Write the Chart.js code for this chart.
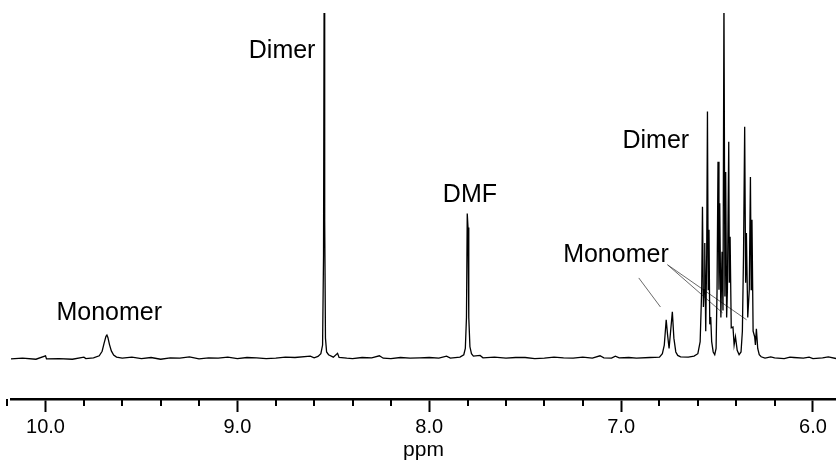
<!DOCTYPE html>
<html>
<head>
<meta charset="utf-8">
<script src="https://cdn.jsdelivr.net/npm/chart.js@4/dist/chart.umd.min.js"></script>
<style>
  html, body { margin: 0; padding: 0; background: #fff; }
  #wrap { width: 836px; height: 464px; position: relative; }
</style>
</head>
<body>
<div id="wrap"><canvas id="nmr"></canvas></div>
<script>
// Spectrum points (chemical shift in ppm, relative intensity)
const ppm = [
  10.18, 10.12, 10.05, 10.00, 9.995, 9.93, 9.86, 9.80, 9.79, 9.75,
  9.72, 9.705, 9.695, 9.685, 9.68, 9.675, 9.667, 9.657, 9.645, 9.63,
  9.60, 9.55, 9.50, 9.45, 9.40, 9.35, 9.30, 9.25, 9.20, 9.15,
  9.10, 9.05, 9.00, 8.95, 8.90, 8.85, 8.80, 8.75, 8.70, 8.62,
  8.60, 8.58, 8.565, 8.556, 8.551, 8.548, 8.545, 8.541, 8.535, 8.525,
  8.50, 8.478, 8.47, 8.43, 8.40, 8.35, 8.30, 8.26, 8.24, 8.20,
  8.15, 8.10, 8.05, 8.00, 7.95, 7.91, 7.89, 7.84, 7.82, 7.812,
  7.806, 7.802, 7.798, 7.794, 7.788, 7.78, 7.77, 7.735, 7.72, 7.66,
  7.60, 7.55, 7.50, 7.45, 7.40, 7.35, 7.30, 7.25, 7.20, 7.15,
  7.11, 7.09, 7.05, 7.03, 7.01, 6.96, 6.92, 6.85, 6.80, 6.785,
  6.775, 6.765, 6.758, 6.75, 6.742, 6.733, 6.725, 6.715, 6.705, 6.69,
  6.65, 6.62, 6.60, 6.588, 6.58, 6.576, 6.571, 6.567, 6.564, 6.559,
  6.554, 6.550, 6.546, 6.542, 6.538, 6.533, 6.528, 6.52, 6.512, 6.505,
  6.50, 6.495, 6.49, 6.486, 6.48, 6.474, 6.469, 6.464, 6.459, 6.455,
  6.450, 6.446, 6.439, 6.436, 6.432, 6.426, 6.417, 6.411, 6.404, 6.395,
  6.385, 6.375, 6.368, 6.362, 6.356, 6.351, 6.347, 6.340, 6.332, 6.326,
  6.322, 6.318, 6.312, 6.304, 6.300, 6.295, 6.288, 6.28, 6.27, 6.25,
  6.22, 6.20, 6.15, 6.12, 6.10, 6.05, 6.02, 6.00, 5.95, 5.92, 5.88
];
const intensity = [
  0, 0.2, -0.1, 0.9, 0, 0.1, -0.1, 0.5, 0.1, 0.3,
  0.9, 2.2, 4.5, 6.5, 6.9, 6.2, 4.2, 2.3, 1.1, 0.5,
  0.2, 0.5, 0.1, 0.4, -0.1, 0.3, 0.2, 0.6, 0, 0.3,
  0.2, 0.5, 0.1, 0.4, 0.3, 0.1, 0.2, 0.5, 0.4, 0.8,
  0.3, 0.7, 1.5, 4, 30, 105, 40, 6, 2, 1.2,
  0.5, 1.6, 0.4, 0.2, 0.1, 0.4, 0.3, 0.9, 0.2, 0.1,
  0.4, 0.2, 0.3, 0.4, 0.2, 0.8, 0.2, 0.5, 1.2, 3,
  12, 42, 38, 12, 3.5, 1.5, 0.8, 1.0, 0.3, 0.5,
  0.2, 0.4, 0.4, 0.1, 0.2, 0.5, 0.3, 0.2, 0.5, 0.2,
  0.9, 0.3, 0.2, 0.8, 0.3, 0.4, 0.2, 0.4, 0.5, 1.5,
  4, 11.3, 7, 3, 8, 13.6, 6, 2, 1, 0.6,
  0.5, 0.8, 1.5, 5, 20, 44, 15, 20, 33.5, 8,
  30, 71.5, 20, 37.3, 10, 12.1, 5, 2, 1.2, 3,
  20, 57, 20, 45, 12, 31, 14, 105, 18, 54,
  12, 20, 62.8, 22, 35.3, 9, 9.2, 4, 6.4, 2.5,
  1.2, 2, 8, 30, 67.1, 22, 36.4, 12, 20, 52.6,
  20, 40.2, 8, 6.4, 4, 8.7, 3, 1.2, 0.6, 0.2,
  0.6, 0.3, 0.1, 0.5, 0.4, 0.2, 0.5, 0.1, 0.3, 0.6, 0.1
];

// Axis
const majorTicks = [10.0, 9.0, 8.0, 7.0, 6.0];
const minorTicks = [10.2, 9.8, 9.6, 9.4, 9.2, 8.8, 8.6, 8.4, 8.2, 7.8, 7.6, 7.4, 7.2, 6.8, 6.6, 6.4, 6.2];

// Peak labels and their anchors (ppm, intensity at text baseline)
const labelTexts = ['Dimer', 'DMF', 'Dimer', 'Monomer', 'Monomer'];
const labelPpm = [8.767, 7.788, 6.819, 7.027, 9.668];
const labelInt = [87.0, 45.4, 61.0, 28.0, 11.3];

// Leader lines from the right "Monomer" label: [ppm start, ppm end], [int start, int end]
const leaderPpm = [[6.908, 6.795], [6.758, 6.471], [6.758, 6.346]];
const leaderInt = [[23.4, 15.0], [27.2, 13.3], [27.2, 11.3]];

const FONT = "'Liberation Sans', Arial, sans-serif";

const spectrum = {
  data: ppm.map((p, i) => ({ x: p, y: intensity[i] })),
  showLine: true,
  borderColor: '#000',
  borderWidth: 1.3,
  pointRadius: 0,
  tension: 0
};

const leaders = leaderPpm.map((pair, i) => ({
  data: pair.map((p, j) => ({ x: p, y: leaderInt[i][j] })),
  showLine: true,
  borderColor: '#444',
  borderWidth: 0.8,
  pointRadius: 0
}));

// Minor ticks on the ppm axis and the peak labels
const extrasPlugin = {
  id: 'extras',
  afterDraw(chart) {
    const ctx = chart.ctx;
    const xs = chart.scales.x;
    const ys = chart.scales.y;
    const base = chart.chartArea.bottom;
    ctx.save();
    ctx.strokeStyle = '#000';
    ctx.lineWidth = 2;
    minorTicks.forEach(v => {
      const px = Math.round(xs.getPixelForValue(v));
      ctx.beginPath();
      ctx.moveTo(px, base);
      ctx.lineTo(px, base + 7);
      ctx.stroke();
    });
    ctx.fillStyle = '#000';
    ctx.font = '25px ' + FONT;
    ctx.textAlign = 'center';
    ctx.textBaseline = 'alphabetic';
    labelTexts.forEach((t, i) => {
      ctx.fillText(t, xs.getPixelForValue(labelPpm[i]), ys.getPixelForValue(labelInt[i]));
    });
    ctx.restore();
  }
};

new Chart(document.getElementById('nmr'), {
  type: 'scatter',
  data: { datasets: [spectrum, ...leaders] },
  options: {
    responsive: true,
    maintainAspectRatio: false,
    animation: false,
    layout: { padding: { left: 11, top: 13, right: 0, bottom: 0 } },
    plugins: { legend: { display: false }, tooltip: { enabled: false } },
    scales: {
      x: {
        type: 'linear',
        reverse: true,
        min: 5.88,
        max: 10.18,
        afterFit(scale) { scale.height = 65; },
        afterBuildTicks(scale) { scale.ticks = majorTicks.map(v => ({ value: v })); },
        border: { display: true, color: '#000', width: 2.5 },
        grid: { drawOnChartArea: false, drawTicks: true, tickLength: 13, tickWidth: 2, tickColor: '#000' },
        ticks: {
          color: '#000',
          padding: 3,
          maxRotation: 0,
          autoSkip: false,
          font: { family: FONT, size: 20 },
          callback: v => v.toFixed(1)
        },
        title: {
          display: true,
          text: 'ppm',
          color: '#000',
          font: { family: FONT, size: 21 },
          padding: { top: 0, bottom: 1 }
        }
      },
      y: {
        display: false,
        min: -11.6,
        max: 100
      }
    }
  },
  plugins: [extrasPlugin]
});
</script>
</body>
</html>
